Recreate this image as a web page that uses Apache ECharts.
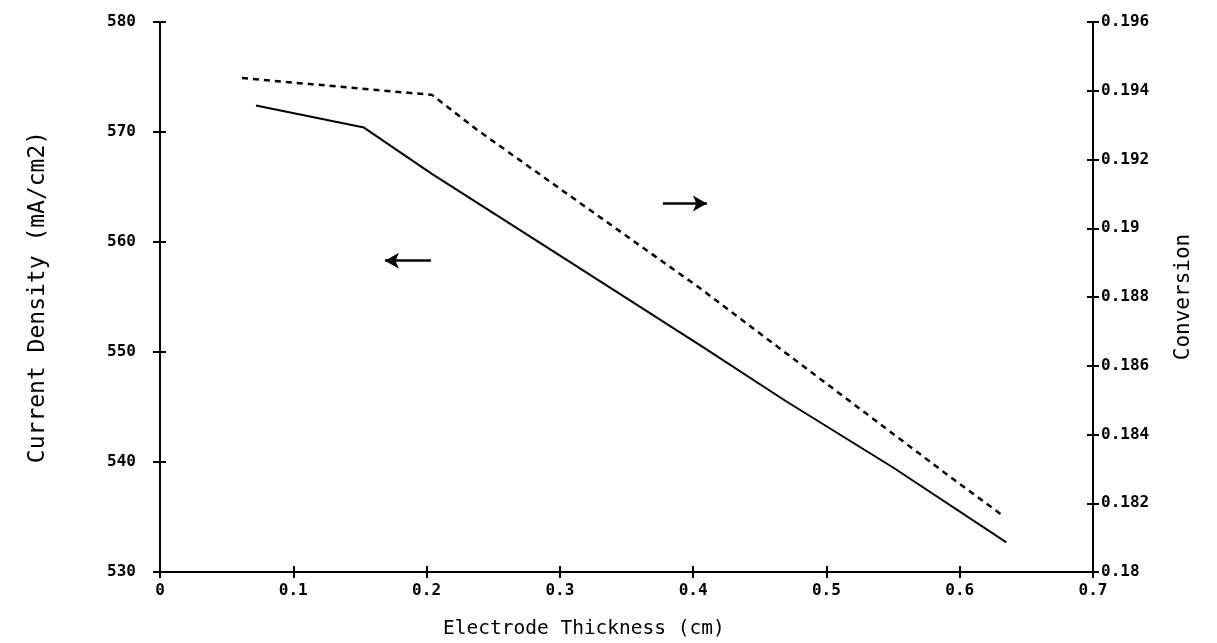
<!DOCTYPE html>
<html>
<head>
<meta charset="utf-8">
<script src="https://cdn.jsdelivr.net/npm/echarts@6/dist/echarts.min.js"></script>
<style>html,body{margin:0;padding:0;background:#fff;}#c{width:1217px;height:643px;}</style>
</head>
<body>
<div id="c"></div>
<script>
// Current density (left axis) vs electrode thickness
const thicknessCD = [0.072, 0.153, 0.204, 0.306, 0.408, 0.47, 0.55, 0.635];
const currentDensity = [572.4, 570.4, 566.2, 558.3, 550.4, 545.5, 539.5, 532.7];
// Conversion (right axis) vs electrode thickness
const thicknessConv = [0.0615, 0.204, 0.238, 0.405, 0.591, 0.6316];
const conversion = [0.19437, 0.19388, 0.19286, 0.18826, 0.18282, 0.18166];
// annotation arrows [x0, y0, x1, y1] in left-axis data units
const arrowRight = [0.3773, 563.5, 0.4103, 563.5];
const arrowLeft = [0.2033, 558.3, 0.1688, 558.3];

const FONT = 'DejaVu Sans Mono';
const chart = echarts.init(document.getElementById('c'));
const tickLbl = {color:'#000', fontFamily: FONT, fontWeight:'bold', fontSize:16};
const axLine = {show:true, lineStyle:{color:'#000', width:2}};
const tickStyle = {color:'#000', width:2};
const gridRect = {left:160, right:124, top:22, bottom:71};
chart.setOption({
  animation:false,
  backgroundColor:'#fff',
  title:{text:'Electrode Thickness (cm)', left:438, top:614,
    textStyle:{color:'#000', fontFamily:FONT, fontSize:19.5, fontWeight:'normal'}},
  grid:[Object.assign({}, gridRect), Object.assign({}, gridRect)],
  xAxis:[{
    type:'value', gridIndex:0, min:0, max:0.7, interval:0.1,
    axisLine:axLine,
    axisTick:{show:true, inside:false, length:6, lineStyle:tickStyle},
    axisLabel:Object.assign({margin:11, formatter:v=>String(+v.toFixed(1))}, tickLbl),
    splitLine:{show:false}
  },{
    type:'value', gridIndex:1, min:0, max:0.7, interval:0.1, position:'bottom',
    axisLine:{show:false},
    axisTick:{show:true, inside:true, length:6, lineStyle:tickStyle},
    axisLabel:{show:false}, splitLine:{show:false}
  }],
  yAxis:[{
    type:'value', gridIndex:0, min:530, max:580, interval:10, position:'left',
    axisLine:axLine,
    axisTick:{show:true, inside:false, length:7, lineStyle:tickStyle},
    axisLabel:Object.assign({margin:24}, tickLbl),
    splitLine:{show:false},
    name:'Current Density (mA/cm2)', nameLocation:'middle', nameGap:110,
    nameTextStyle:{color:'#000', fontFamily:FONT, fontSize:23}
  },{
    type:'value', gridIndex:0, min:0.18, max:0.196, interval:0.002, position:'right',
    axisLine:axLine,
    axisTick:{show:true, inside:false, length:6, lineStyle:tickStyle},
    axisLabel:Object.assign({margin:8, formatter:v=>String(+v.toFixed(3))}, tickLbl),
    splitLine:{show:false},
    name:'Conversion', nameLocation:'middle', nameGap:80,
    nameTextStyle:{color:'#000', fontFamily:FONT, fontSize:21}
  },{
    type:'value', gridIndex:1, min:530, max:580, interval:10, position:'left',
    axisLine:{show:false},
    axisTick:{show:true, inside:true, length:6, lineStyle:tickStyle},
    axisLabel:{show:false}, splitLine:{show:false}
  },{
    type:'value', gridIndex:1, min:0.18, max:0.196, interval:0.002, position:'right',
    axisLine:{show:false},
    axisTick:{show:true, inside:true, length:6, lineStyle:tickStyle},
    axisLabel:{show:false}, splitLine:{show:false}
  }],
  series:[{
    type:'line', xAxisIndex:0, yAxisIndex:0, showSymbol:false,
    data: thicknessCD.map((x,i)=>[x, currentDensity[i]]),
    lineStyle:{color:'#000', width:2},
    markLine:{
      silent:true, symbol:['none','arrow'], symbolSize:[12,14],
      label:{show:false},
      lineStyle:{color:'#000', width:2.5, type:'solid'},
      data:[
        [{coord:[arrowRight[0], arrowRight[1]]},{coord:[arrowRight[2], arrowRight[3]]}],
        [{coord:[arrowLeft[0], arrowLeft[1]]},{coord:[arrowLeft[2], arrowLeft[3]]}]
      ]
    }
  },{
    type:'line', xAxisIndex:0, yAxisIndex:1, showSymbol:false,
    data: thicknessConv.map((x,i)=>[x, conversion[i]]),
    lineStyle:{color:'#000', width:2.5, type:[6,5]}
  }]
});
</script>
</body>
</html>
